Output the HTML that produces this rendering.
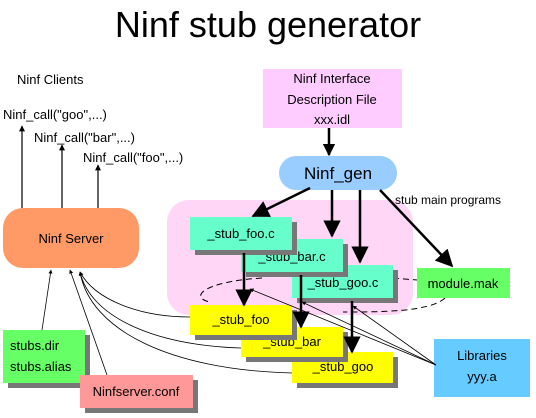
<html><head><style>body{margin:0;background:#fff}svg{display:block}text{font-family:"Liberation Sans",sans-serif}</style></head><body>
<svg width="536" height="418" viewBox="0 0 536 418" xmlns="http://www.w3.org/2000/svg">
<defs><marker id="a" viewBox="0 0 10 10" refX="9" refY="5" markerWidth="5" markerHeight="5" orient="auto"><path d="M0,0L10,5L0,10z" fill="#000"/></marker>
<marker id="b" viewBox="0 0 10 10" refX="9" refY="5" markerWidth="7" markerHeight="7" orient="auto"><path d="M0,0L10,5L0,10z" fill="#000"/></marker></defs>
<text x="268" y="37" font-size="36" text-anchor="middle">Ninf stub generator</text>
<g font-size="13">
<text x="17" y="84">Ninf Clients</text>
<text x="3" y="119">Ninf_call("goo",...)</text>
<text x="34" y="142">Ninf_call("bar",...)</text>
<text x="83" y="162">Ninf_call("foo",...)</text>
</g>
<g stroke="#000" stroke-width="1.2" marker-end="url(#a)">
<line x1="22" y1="208" x2="22" y2="126"/><line x1="62" y1="208" x2="62" y2="145"/><line x1="98" y1="208" x2="98" y2="165"/>
</g>
<rect x="3" y="208" width="136" height="60" rx="20" fill="#FF9966"/>
<text x="71" y="243" font-size="13" text-anchor="middle">Ninf Server</text>
<rect x="263" y="69" width="139" height="59" fill="#FFCCFF"/>
<g font-size="13" text-anchor="middle"><text x="332" y="83">Ninf Interface</text><text x="332" y="104">Description File</text><text x="332" y="124">xxx.idl</text></g>
<line x1="329" y1="128" x2="329" y2="155" stroke="#000" stroke-width="2.5" marker-end="url(#a)"/>
<rect x="167" y="200" width="246" height="115" rx="22" fill="#FFD6F6"/>
<rect x="279" y="156" width="118" height="34" rx="17" fill="#99CCFF"/>
<text x="338" y="179" font-size="17" text-anchor="middle">Ninf_gen</text>
<text x="395" y="204" font-size="12">stub main programs</text>
<g stroke="#000" stroke-width="2.5" marker-end="url(#b)">
<line x1="310" y1="188" x2="253" y2="216"/><line x1="332" y1="190" x2="332" y2="236"/><line x1="360" y1="190" x2="360" y2="262"/><line x1="380" y1="190" x2="452" y2="266"/>
</g>
<g fill="none" stroke="#000" stroke-width="1" stroke-dasharray="6,4">
<path d="M262 278 C 200 282, 190 298, 210 302"/><path d="M393 278 L 417 280"/><path d="M445 298 C 430 312, 380 312, 343 312"/>
</g>
<rect x="297" y="270" width="101" height="33" fill="#777"/><rect x="292" y="265" width="101" height="33" fill="#66FFCC"/><text x="343" y="287" font-size="13" text-anchor="middle">_stub_goo.c</text>
<rect x="246" y="244" width="102" height="33" fill="#777"/><rect x="241" y="239" width="102" height="33" fill="#66FFCC"/><text x="292" y="261" font-size="13" text-anchor="middle">_stub_bar.c</text>
<rect x="195" y="222" width="102" height="33" fill="#777"/><rect x="190" y="217" width="102" height="33" fill="#66FFCC"/><text x="241" y="238" font-size="13" text-anchor="middle">_stub_foo.c</text>
<rect x="417" y="268" width="93" height="30" fill="#66FF66"/><text x="463" y="288" font-size="13" text-anchor="middle">module.mak</text>
<rect x="297" y="357" width="101" height="31" fill="#777"/><rect x="292" y="352" width="101" height="31" fill="#FFFF00"/><text x="343" y="371" font-size="13" text-anchor="middle">_stub_goo</text>
<rect x="246" y="332" width="102" height="30" fill="#777"/><rect x="241" y="327" width="102" height="30" fill="#FFFF00"/><text x="292" y="346" font-size="13" text-anchor="middle">_stub_bar</text>
<rect x="195" y="310" width="102" height="30" fill="#777"/><rect x="190" y="305" width="102" height="30" fill="#FFFF00"/><text x="241" y="324" font-size="13" text-anchor="middle">_stub_foo</text>
<g stroke="#000" stroke-width="2.5" marker-end="url(#b)">
<line x1="244" y1="253" x2="244" y2="305"/><line x1="301" y1="275" x2="301" y2="327"/><line x1="352" y1="301" x2="352" y2="352"/>
</g>
<rect x="434" y="339" width="96" height="58" fill="#66CCFF"/>
<g font-size="13" text-anchor="middle"><text x="482" y="360">Libraries</text><text x="482" y="381">yyy.a</text></g>
<g stroke="#000" stroke-width="0.8" fill="none" marker-end="url(#a)">
<line x1="436" y1="365" x2="250" y2="289"/><line x1="436" y1="365" x2="302" y2="302"/><line x1="436" y1="365" x2="353" y2="306"/>
<path d="M190 317 C 140 317, 95 300, 80 272"/><path d="M241 348 C 150 345, 90 315, 80 272"/><path d="M292 373 C 170 370, 90 330, 80 272"/>
<line x1="42" y1="330" x2="51" y2="270"/><line x1="107" y1="375" x2="70" y2="270"/>
</g>
<rect x="8" y="335" width="82" height="53" fill="#777"/>
<rect x="3" y="330" width="82" height="53" fill="#66FF66"/>
<g font-size="13"><text x="10" y="350">stubs.dir</text><text x="10" y="371">stubs.alias</text></g>
<rect x="85" y="380" width="113" height="33" fill="#777"/>
<rect x="80" y="375" width="113" height="33" fill="#FF9999"/>
<text x="136" y="396" font-size="13" text-anchor="middle">Ninfserver.conf</text>
</svg></body></html>
